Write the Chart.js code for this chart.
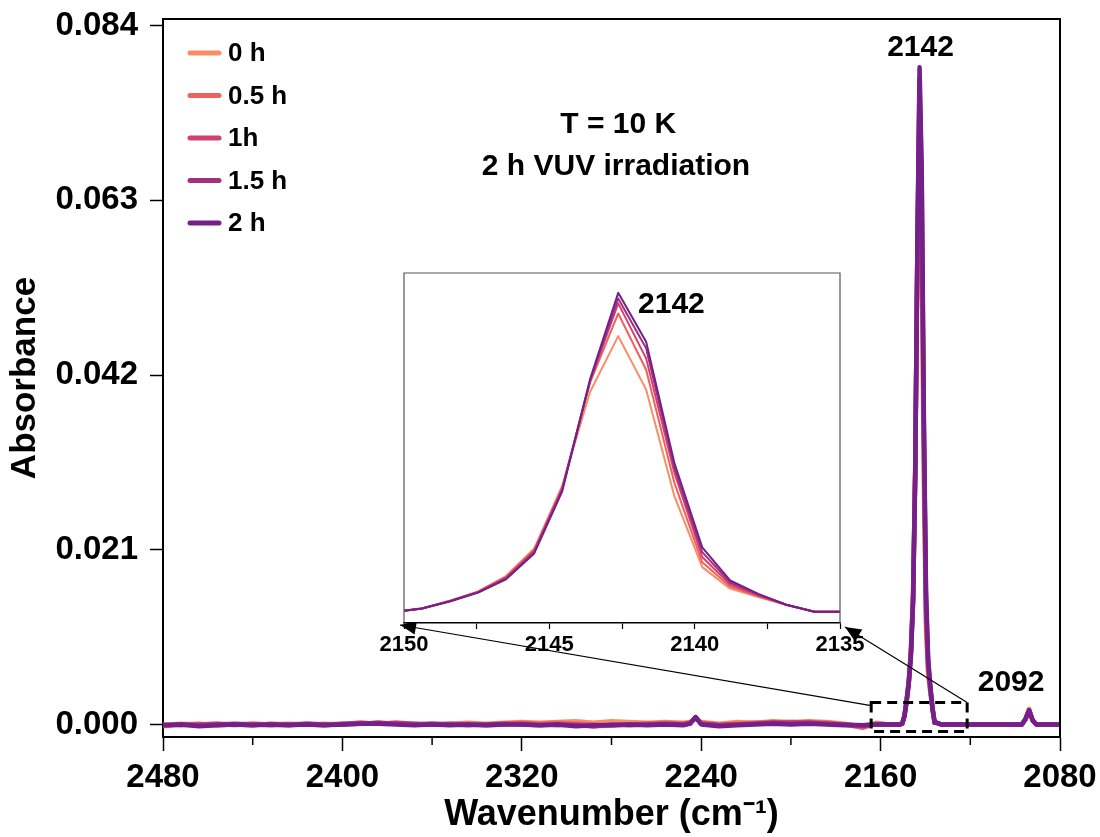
<!DOCTYPE html>
<html>
<head>
<meta charset="utf-8">
<script src="https://cdn.jsdelivr.net/npm/chart.js@4.4.0/dist/chart.umd.min.js"></script>
<style>
  body { margin: 0; background: #fff; }
  #wrap { position: relative; width: 1100px; height: 837px; }
  #mainChart { position: absolute; left: 0; top: 0; }
  #insetChart { position: absolute; left: 364px; top: 253px; }
</style>
</head>
<body>
<div id="wrap">
  <canvas id="mainChart" width="1100" height="837"></canvas>
  <canvas id="insetChart" width="516" height="420"></canvas>
</div>
<script>
const FONT = "'Liberation Sans', Arial, Helvetica, sans-serif";

// series
const seriesNames = ['0 h', '0.5 h', '1h', '1.5 h', '2 h'];
const seriesColors = ['#f98e66', '#ef615d', '#d2426d', '#a1307e', '#74208a'];

// wavenumber (cm-1)
const wavenumbers = [
  2480, 2472, 2464, 2456, 2448, 2440, 2432, 2424, 2416, 2408,
  2400, 2392, 2384, 2376, 2368, 2360, 2352, 2344, 2336, 2328,
  2320, 2312, 2304, 2296, 2288, 2280, 2272, 2264, 2256, 2248,
  2245, 2242.5, 2240, 2232, 2224, 2216, 2208, 2200, 2192, 2184,
  2176, 2168, 2162, 2156,
  2151.31, 2150.35, 2149.38, 2148.42, 2147.45, 2146.49, 2145.52, 2144.56, 2143.60, 2142.63,
  2141.67, 2140.70, 2139.74, 2138.78, 2137.81, 2136.85, 2135.88, 2134.92, 2133.95, 2132.99,
  2124, 2116, 2108, 2100, 2097, 2095.5, 2093.8, 2092.2, 2090.5, 2086, 2080
];

// absorbance for each irradiation time
const abs0h = [
  -0.0001, 0.0001, 0, 0.0001, -0.0001, 0.0001, 0, 0.0001, 0, 0.0001,
  0, 0.0002, 0.0001, 0.0002, 0.0001, 0, 0.0001, 0.0002, 0.0001, 0.0002,
  0.0003, 0.0002, 0.0003, 0.0004, 0.0002, 0.0004, 0.0003, 0.0002, 0.0003, 0.0002,
  0.0003, 0.0007, 0.0003, 0.0001, 0.0003, 0.0002, 0.0004, 0.0003, 0.0004, 0.0003,
  0.0001, -0.0003, 0.0002, 0,
  0, 0.0001, 0.0010, 0.0029, 0.0052, 0.0090, 0.0158, 0.0312, 0.0545, 0.0683,
  0.0551, 0.0288, 0.0112, 0.0059, 0.0038, 0.0019, 0.0002, 0.0002, 0.0001, 0,
  0, 0, 0, 0, 0, 0.0006, 0.0019, 0.0005, 0, 0, 0
];
const abs05h = [
  -0.0002, 0, 0.0001, -0.0001, 0, 0.0001, 0, -0.0001, 0.0001, 0,
  0.0001, 0.0001, 0.0002, 0.0001, 0, 0.0001, 0, 0.0001, 0, 0.0001,
  0.0002, 0.0001, 0.0002, 0.0001, 0, -0.0001, 0, 0.0001, 0.0002, 0.0001,
  0.0002, 0.0008, 0.0002, 0, 0.0001, 0.0002, 0.0003, 0.0002, 0.0003, 0.0002,
  0, -0.0004, 0.0001, 0,
  0, 0.0001, 0.0010, 0.0029, 0.0051, 0.0088, 0.0155, 0.0309, 0.0568, 0.0739,
  0.0600, 0.0321, 0.0124, 0.0064, 0.0040, 0.0019, 0.0002, 0.0002, 0.0001, 0,
  0, 0, 0, 0, 0, 0.0006, 0.0017, 0.0005, 0, 0, 0
];
const abs1h = [
  0, -0.0001, 0, 0.0001, 0, -0.0001, 0.0001, 0, 0, -0.0001,
  0.0001, 0.0002, 0.0001, 0.0002, 0.0001, 0, 0.0001, 0, -0.0001, 0,
  0.0001, 0, -0.0001, 0, -0.0002, -0.0001, 0, 0.0001, 0, 0.0001,
  0.0002, 0.0008, 0.0001, -0.0001, 0, 0.0001, 0.0002, 0.0003, 0.0002, 0.0001,
  0, -0.0002, 0, 0,
  0, 0.0001, 0.0010, 0.0028, 0.0051, 0.0086, 0.0152, 0.0305, 0.0571, 0.0764,
  0.0628, 0.0346, 0.0137, 0.0069, 0.0042, 0.0019, 0.0002, 0.0002, 0.0001, 0,
  0, 0, 0, 0, 0, 0.0006, 0.0017, 0.0005, 0, 0, 0
];
const abs15h = [
  -0.0001, 0, -0.0001, 0, 0.0001, 0, -0.0001, 0, 0.0001, 0,
  0, 0.0001, 0.0002, 0.0001, 0, 0.0001, 0, -0.0001, 0, 0.0001,
  0, -0.0001, 0, -0.0001, -0.0002, 0, -0.0001, 0, 0.0001, 0,
  0.0001, 0.0009, 0.0001, -0.0001, 0, 0.0001, 0.0002, 0.0001, 0.0002, 0.0001,
  0, -0.0001, 0, 0,
  0, 0.0001, 0.0010, 0.0028, 0.0050, 0.0084, 0.0149, 0.0302, 0.0573, 0.0776,
  0.0653, 0.0358, 0.0149, 0.0074, 0.0044, 0.0019, 0.0002, 0.0002, 0.0001, 0,
  0, 0, 0, 0, 0, 0.0006, 0.0017, 0.0005, 0, 0, 0
];
const abs2h = [
  -0.0001, 0, -0.0002, -0.0001, 0, -0.0001, 0, -0.0001, 0, -0.0001,
  0, 0.0001, 0.0001, 0, -0.0001, 0, -0.0001, 0, -0.0001, 0,
  0, -0.0001, 0, -0.0002, -0.0001, -0.0001, 0, -0.0001, 0, -0.0001,
  0.0001, 0.0009, 0, -0.0002, -0.0001, 0, 0.0001, 0, 0.0001, 0,
  -0.0001, -0.0001, 0, 0,
  0, 0.0001, 0.0010, 0.0027, 0.0049, 0.0082, 0.0146, 0.0299, 0.0576, 0.0790,
  0.0669, 0.0370, 0.0161, 0.0079, 0.0046, 0.0019, 0.0002, 0.0002, 0.0001, 0,
  0, 0, 0, 0, 0, 0.0006, 0.0017, 0.0005, 0, 0, 0
];
const seriesValues = [abs0h, abs05h, abs1h, abs15h, abs2h];

// axes
const xTickValues = [2480, 2400, 2320, 2240, 2160, 2080];
const xMinorTicks = [2440, 2360, 2280, 2200, 2120];
const yTickValues = [0, 0.021, 0.042, 0.063, 0.084];
const insetTickValues = [2150, 2147.5, 2145, 2142.5, 2140, 2137.5, 2135];
const insetTickLabels = [2150, 2145, 2140, 2135];

// notes on the main plot (data coordinates)
const mainNotes = [
  { text: 'T = 10 K', x: 2277, y: 0.0721 },
  { text: '2 h VUV irradiation', x: 2278, y: 0.0670 },
  { text: '2142', x: 2142.2, y: 0.0813 },
  { text: '2092', x: 2101.8, y: 0.0050 }
];
const zoomBoxX = [2164.2, 2121.4];
const zoomBoxY = [-0.00084, 0.00264];

function makeDatasets(width) {
  return seriesValues.map((vals, i) => ({
    label: seriesNames[i],
    data: wavenumbers.map((w, k) => ({ x: w, y: vals[k] })),
    borderColor: seriesColors[i],
    backgroundColor: seriesColors[i],
    borderWidth: width,
    pointRadius: 0,
    tension: 0,
    borderJoinStyle: 'round',
    borderCapStyle: 'round',
    order: seriesNames.length - i
  }));
}

const insetDecor = {
  id: 'insetDecor',
  beforeDraw(chart) {
    const { ctx, chartArea: a } = chart;
    ctx.save();
    ctx.fillStyle = '#fff';
    ctx.fillRect(a.left, a.top, a.right - a.left, a.bottom - a.top);
    ctx.restore();
  },
  afterDraw(chart) {
    const { ctx, chartArea: a, scales: { x, y } } = chart;
    ctx.save();
    ctx.strokeStyle = '#555';
    ctx.lineWidth = 1.2;
    ctx.beginPath();
    ctx.moveTo(a.left, a.bottom);
    ctx.lineTo(a.left, a.top);
    ctx.lineTo(a.right, a.top);
    ctx.lineTo(a.right, a.bottom);
    ctx.stroke();
    ctx.fillStyle = '#000';
    ctx.font = 'bold 30px ' + FONT;
    ctx.textAlign = 'center';
    ctx.textBaseline = 'middle';
    ctx.fillText('2142', x.getPixelForValue(2140.8), y.getPixelForValue(0.0760));
    ctx.restore();
  }
};

const insetChart = new Chart(document.getElementById('insetChart'), {
  type: 'line',
  data: { datasets: makeDatasets(2) },
  options: {
    responsive: false,
    animation: false,
    layout: { padding: { left: 40, right: 40, top: 20, bottom: 0 } },
    plugins: { legend: { display: false }, tooltip: { enabled: false } },
    scales: {
      x: {
        type: 'linear', reverse: true, min: 2135, max: 2150,
        afterBuildTicks: s => { s.ticks = insetTickValues.map(v => ({ value: v })); },
        afterFit: s => { s.height = 50; s.paddingLeft = 0; s.paddingRight = 0; },
        ticks: {
          autoSkip: false, maxRotation: 0, padding: 3, color: '#000',
          font: { family: FONT, size: 22, weight: 'bold' },
          callback: v => insetTickLabels.includes(v) ? String(v) : ''
        },
        grid: { drawOnChartArea: false, drawTicks: true, tickLength: 6, tickColor: '#000', tickWidth: 1.2 },
        border: { color: '#000', width: 1.5 }
      },
      y: { display: false, min: -0.0026, max: 0.0839 }
    }
  },
  plugins: [insetDecor]
});

function arrow(ctx, x0, y0, x1, y1) {
  ctx.beginPath();
  ctx.moveTo(x0, y0);
  ctx.lineTo(x1, y1);
  ctx.stroke();
  const ang = Math.atan2(y1 - y0, x1 - x0), L = 16, W = 7;
  ctx.beginPath();
  ctx.moveTo(x1, y1);
  ctx.lineTo(x1 - L * Math.cos(ang) + W * Math.sin(ang), y1 - L * Math.sin(ang) - W * Math.cos(ang));
  ctx.lineTo(x1 - L * Math.cos(ang) - W * Math.sin(ang), y1 - L * Math.sin(ang) + W * Math.cos(ang));
  ctx.closePath();
  ctx.fill();
}

const mainDecor = {
  id: 'mainDecor',
  afterDraw(chart) {
    const { ctx, chartArea: a, scales: { x, y } } = chart;
    ctx.save();
    // frame
    ctx.strokeStyle = '#000';
    ctx.lineWidth = 2;
    ctx.beginPath();
    ctx.moveTo(a.left, a.top);
    ctx.lineTo(a.right, a.top);
    ctx.lineTo(a.right, a.bottom);
    ctx.stroke();
    // minor ticks
    ctx.lineWidth = 1.5;
    xMinorTicks.forEach(v => {
      const px = x.getPixelForValue(v);
      ctx.beginPath();
      ctx.moveTo(px, a.bottom);
      ctx.lineTo(px, a.bottom + 8);
      ctx.stroke();
    });
    // notes
    ctx.fillStyle = '#000';
    ctx.textAlign = 'center';
    ctx.textBaseline = 'middle';
    ctx.font = 'bold 30px ' + FONT;
    mainNotes.forEach(n => ctx.fillText(n.text, x.getPixelForValue(n.x), y.getPixelForValue(n.y)));
    // dashed zoom box
    const bx0 = x.getPixelForValue(zoomBoxX[0]), bx1 = x.getPixelForValue(zoomBoxX[1]);
    const by0 = y.getPixelForValue(zoomBoxY[1]), by1 = y.getPixelForValue(zoomBoxY[0]);
    ctx.setLineDash([10, 6]);
    ctx.lineWidth = 3;
    ctx.strokeRect(bx0, by0, bx1 - bx0, by1 - by0);
    ctx.setLineDash([]);
    // arrows to inset corners
    const ia = insetChart.chartArea;
    const offX = 364, offY = 253;
    ctx.lineWidth = 1.2;
    arrow(ctx, bx0, by0 + 3, ia.left + offX - 4, ia.bottom + offY + 2);
    arrow(ctx, bx1, by0, ia.right + offX + 5, ia.bottom + offY + 4);
    // legend
    ctx.font = 'bold 26px ' + FONT;
    ctx.textAlign = 'left';
    ctx.lineCap = 'round';
    seriesNames.forEach((name, i) => {
      const ry = a.top + 34 + i * 42.5;
      ctx.strokeStyle = seriesColors[i];
      ctx.lineWidth = 5;
      ctx.beginPath();
      ctx.moveTo(a.left + 27, ry);
      ctx.lineTo(a.left + 56, ry);
      ctx.stroke();
      ctx.fillText(name, a.left + 65, ry + 1);
    });
    ctx.restore();
  }
};

new Chart(document.getElementById('mainChart'), {
  type: 'line',
  data: { datasets: makeDatasets(4.5) },
  options: {
    responsive: false,
    animation: false,
    layout: { padding: { left: 0, top: 19, right: 40, bottom: 0 } },
    plugins: { legend: { display: false }, tooltip: { enabled: false } },
    scales: {
      x: {
        type: 'linear', reverse: true, min: 2080, max: 2480,
        afterBuildTicks: s => { s.ticks = xTickValues.map(v => ({ value: v })); },
        afterFit: s => { s.height = 100; s.paddingLeft = 0; s.paddingRight = 0; },
        ticks: {
          autoSkip: false, maxRotation: 0, padding: 7, color: '#000',
          font: { family: FONT, size: 33, weight: 'bold' },
          callback: v => String(v)
        },
        grid: { drawOnChartArea: false, drawTicks: true, tickLength: 14, tickColor: '#000', tickWidth: 1.5 },
        border: { color: '#000', width: 2 },
        title: {
          display: true, text: 'Wavenumber (cm\u207B\u00B9)', color: '#000',
          font: { family: FONT, size: 36, weight: 'bold' }, padding: { top: 0, bottom: 0 }
        }
      },
      y: {
        min: -0.0015, max: 0.0848,
        afterBuildTicks: s => { s.ticks = yTickValues.map(v => ({ value: v })); },
        afterFit: s => { s.width = 163; s.paddingTop = 0; s.paddingBottom = 0; },
        ticks: {
          padding: 12, color: '#000',
          font: { family: FONT, size: 33, weight: 'bold' },
          callback: v => Number(v).toFixed(3)
        },
        grid: { drawOnChartArea: false, drawTicks: true, tickLength: 13, tickColor: '#000', tickWidth: 1.5 },
        border: { color: '#000', width: 2 },
        title: {
          display: true, text: 'Absorbance', color: '#000',
          font: { family: FONT, size: 35, weight: 'bold' }, padding: { top: 4, bottom: 0 }
        }
      }
    }
  },
  plugins: [mainDecor]
});
</script>
</body>
</html>
